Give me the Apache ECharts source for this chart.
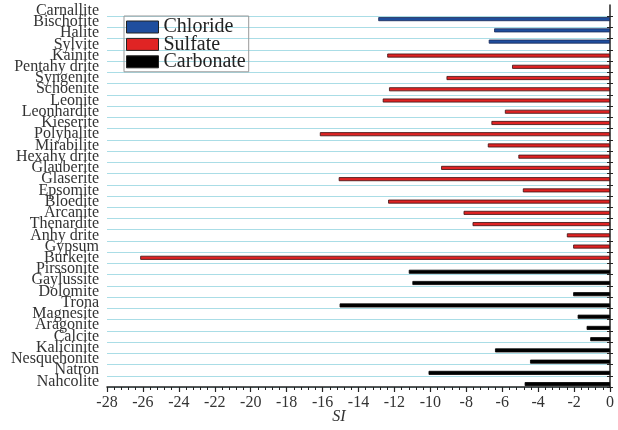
<!DOCTYPE html>
<html>
<head>
<meta charset="utf-8">
<script src="https://cdn.jsdelivr.net/npm/echarts@6/dist/echarts.min.js"></script>
<style>html,body{margin:0;padding:0;background:#fff;}#c{width:618px;height:430px;}</style>
</head>
<body>
<div id="c"></div>
<script>
var chlorideMinerals = ['Carnallite','Bischofite','Halite','Sylvite'];
var chlorideSI = [null, -12.9, -6.45, -6.75];
var sulfateMinerals = ['Kainite','Pentahy drite','Syngenite','Schoenite','Leonite','Leonhardite','Kieserite','Polyhalite','Mirabilite','Hexahy drite','Glauberite','Glaserite','Epsomite','Bloedite','Arcanite','Thenardite','Anhy drite','Gypsum','Burkeite'];
var sulfateSI = [-12.4, -5.45, -9.1, -12.3, -12.65, -5.85, -6.6, -16.15, -6.8, -5.1, -9.4, -15.1, -4.85, -12.35, -8.15, -7.65, -2.4, -2.05, -26.15];
var carbonateMinerals = ['Pirssonite','Gaylussite','Dolomite','Trona','Magnesite','Aragonite','Calcite','Kalicinite','Nesquehonite','Natron','Nahcolite'];
var carbonateSI = [-11.2, -11.0, -2.05, -15.05, -1.8, -1.3, -1.1, -6.4, -4.45, -10.1, -4.75];
var xTicks = [-28, 0, 2];

var categories = chlorideMinerals.concat(sulfateMinerals, carbonateMinerals);
function pad(vals, before, after) {
  var out = [];
  for (var i = 0; i < before; i++) out.push(null);
  out = out.concat(vals);
  for (var j = 0; j < after; j++) out.push(null);
  return out;
}
var nC = chlorideMinerals.length, nS = sulfateMinerals.length, nK = carbonateMinerals.length;
var chlData = pad(chlorideSI, 0, nS + nK);
var sulData = pad(sulfateSI, nC, nK);
var carData = pad(carbonateSI, nC + nS, 0);

var font = 'Liberation Serif';
var chart = echarts.init(document.getElementById('c'), null, {renderer: 'canvas'});
var barCommon = {type: 'bar', barWidth: 4, barGap: '-32%', yAxisIndex: 0};
var skipFirst = function (i) { return i > 0; };
chart.setOption({
  animation: false,
  grid: {left: 107, right: 8, top: 5, bottom: 43, containLabel: false, outerBoundsMode: 'none'},
  legend: {
    left: 124, top: 16, orient: 'vertical',
    itemWidth: 32, itemHeight: 12, itemGap: -2.6,
    padding: [1, 3, 0, 2],
    borderColor: '#999', borderWidth: 1,
    icon: 'rect',
    itemStyle: {borderColor: '#222', borderWidth: 1},
    textStyle: {fontFamily: font, fontSize: 20, color: '#222'},
    data: ['Chloride', 'Sulfate', 'Carbonate']
  },
  xAxis: {
    type: 'value', min: xTicks[0], max: xTicks[1], interval: xTicks[2],
    name: 'SI', nameLocation: 'middle', nameGap: 22, nameMoveOverlap: false,
    nameTextStyle: {fontFamily: font, fontStyle: 'italic', fontSize: 16, color: '#333', padding: [0, 39, 0, 0]},
    axisLine: {show: true, onZero: false, lineStyle: {color: '#222', width: 1.5}},
    axisTick: {show: true, length: 5, lineStyle: {color: '#222', width: 1.2}},
    minorTick: {show: true, splitNumber: 5, length: 3, lineStyle: {color: '#222', width: 1}},
    axisLabel: {fontFamily: font, fontSize: 16, color: '#333', margin: 8},
    splitLine: {show: false}
  },
  yAxis: [
    {
      type: 'category', data: categories, inverse: true, position: 'left',
      axisLine: {show: false}, axisTick: {show: false},
      axisLabel: {fontFamily: font, fontSize: 16, color: '#333', margin: 8, interval: 0},
      splitLine: {show: true, interval: skipFirst, lineStyle: {color: '#aadde6', width: 1.2}}
    },
    {
      type: 'category', data: categories, inverse: true, position: 'right',
      axisLine: {show: true, lineStyle: {color: '#222', width: 1.5}},
      axisTick: {show: true, inside: true, length: 3, interval: skipFirst, lineStyle: {color: '#222'}},
      axisLabel: {show: false}, splitLine: {show: false}
    },
    {
      type: 'category', data: categories, inverse: true, position: 'right',
      axisLine: {show: false},
      axisTick: {show: true, inside: false, length: 3, interval: skipFirst, lineStyle: {color: '#222'}},
      axisLabel: {show: false}, splitLine: {show: false}
    }
  ],
  series: [
    Object.assign({}, barCommon, {name: 'Chloride', data: chlData, itemStyle: {color: '#1f4e9e', borderColor: '#1a2a55', borderWidth: 0.8}}),
    Object.assign({}, barCommon, {name: 'Sulfate', data: sulData, itemStyle: {color: '#e02424', borderColor: '#3a1010', borderWidth: 0.8}}),
    Object.assign({}, barCommon, {name: 'Carbonate', data: carData, itemStyle: {color: '#000000', borderColor: '#000', borderWidth: 0.8}})
  ]
});
</script>
</body>
</html>
